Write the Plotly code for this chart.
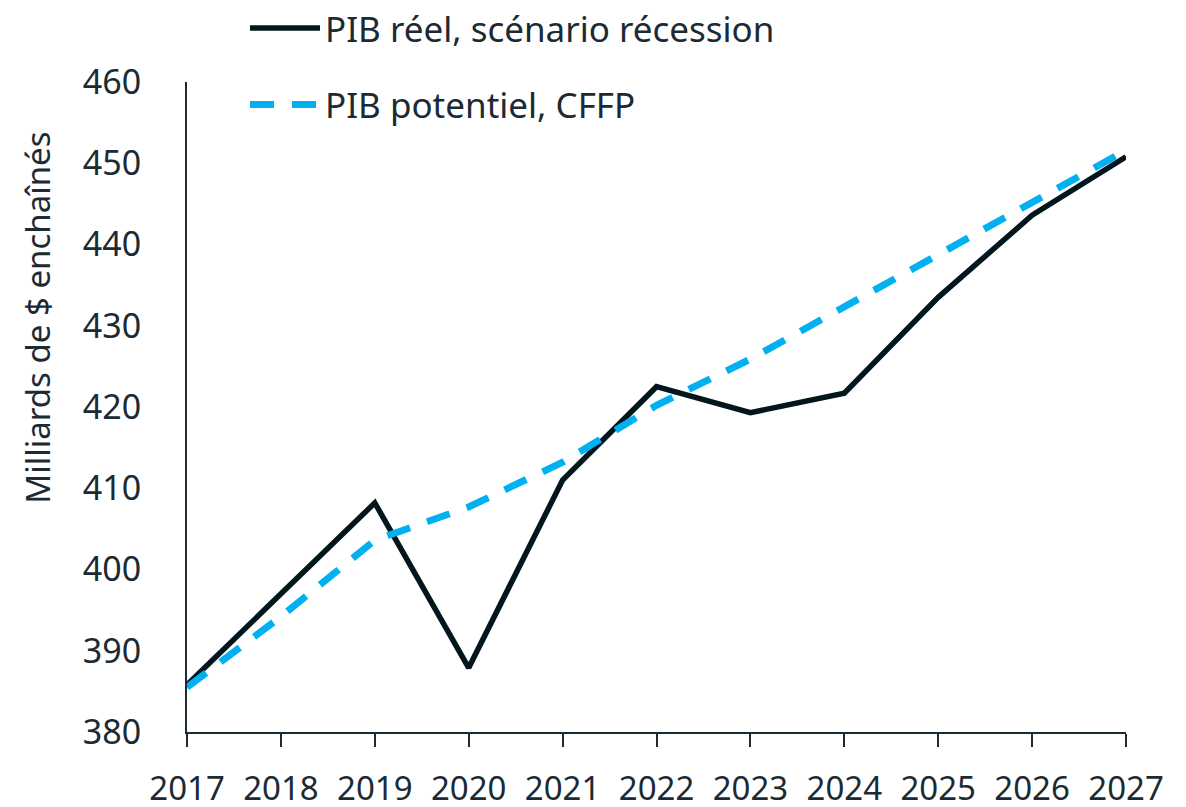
import plotly.graph_objects as go

years = [2017, 2018, 2019, 2020, 2021, 2022, 2023, 2024, 2025, 2026, 2027]
pib_reel = [385.8, 396.9, 408.2, 387.9, 411.0, 422.5, 419.3, 421.7, 433.5, 443.6, 450.8]
pib_potentiel = [385.5, 394.2, 403.6, 407.7, 413.2, 420.2, 425.9, 432.3, 438.8, 445.2, 451.6]

name_reel = "PIB réel, scénario récession"
name_pot = "PIB potentiel, CFFP"
y_title = "Milliards de $ enchaînés"

txt = "#1c2a33"
font = "Noto Sans"

fig = go.Figure()
fig.add_trace(go.Scatter(x=years, y=pib_reel, mode="lines", name=name_reel,
                         legendgroup="a",
                         line=dict(color="#03161d", width=5.5)))
fig.add_trace(go.Scatter(x=years, y=pib_potentiel, mode="lines", name=name_pot,
                         legendgroup="b",
                         line=dict(color="#00b0f0", width=7, dash="24px,18px")))

# page body has an 8px margin, so the figure is a bit smaller than the window
fig.update_layout(
    width=1178, height=799,
    margin=dict(l=179, r=60, t=74, b=75, autoexpand=False),
    plot_bgcolor="white", paper_bgcolor="white",
    font=dict(family=font, size=34, color=txt),
    showlegend=True,
    legend=dict(x=0.0618, y=1.128, xanchor="left", yanchor="top",
                bgcolor="rgba(0,0,0,0)", itemwidth=70, tracegroupgap=28,
                font=dict(size=35, color=txt)),
)
fig.update_xaxes(range=[2017, 2027], tickvals=years, showgrid=False, zeroline=False,
                 showline=True, linecolor="#1c2a33", linewidth=2, automargin=False,
                 ticks="outside", ticklen=13, tickwidth=2, tickcolor="#1c2a33",
                 ticklabelstandoff=13, tickfont=dict(size=33))
fig.update_yaxes(range=[380, 460], dtick=10, showgrid=False, zeroline=False,
                 showline=True, linecolor="#1c2a33", linewidth=2, automargin=False,
                 ticks="", ticklabelstandoff=37)
fig.add_annotation(text=y_title, xref="paper", yref="paper", x=-0.159, y=0.637,
                   xanchor="center", yanchor="middle",
                   textangle=-90, showarrow=False, font=dict(size=33, color=txt))

fig.write_html("out.html")
